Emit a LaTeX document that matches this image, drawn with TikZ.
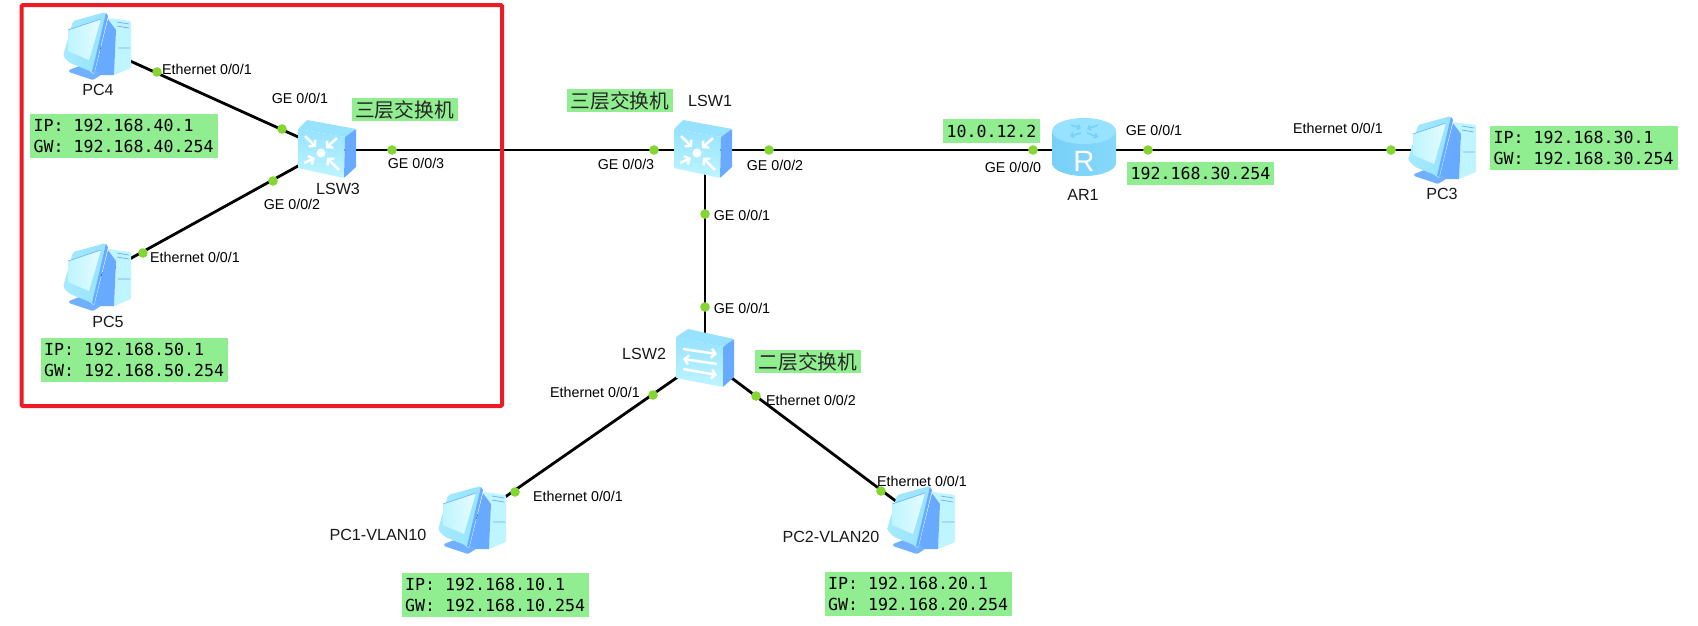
\documentclass[tikz,border=0pt]{standalone}
\usepackage{fontspec}
\setmainfont{Liberation Sans}
\setmonofont{DejaVu Sans Mono}
\newfontfamily\cjkfont{Noto Sans CJK SC}
\usetikzlibrary{arrows.meta}
\definecolor{boxgreen}{RGB}{144,238,144}
\definecolor{portdot}{RGB}{133,214,50}
\definecolor{framered}{RGB}{237,28,36}
\definecolor{iconTop}{RGB}{150,226,255}
\definecolor{iconFront}{RGB}{165,234,255}
\definecolor{iconPale}{RGB}{190,245,255}
\definecolor{iconSide}{RGB}{104,170,255}
\definecolor{iconBase}{RGB}{112,176,255}
\definecolor{iconEdge}{RGB}{120,208,248}
% fixed gap after the IP: and GW: tags, one character cell wide
\newcommand{\cellgap}{\hspace{7.5pt}}
\tikzset{
  x=0.75pt, y=-0.75pt,
  device/.style={inner sep=0pt, minimum size=40pt},
  link/.style={line width=2.1pt, black},
  portmark/.style={circle, fill=portdot, inner sep=0pt, minimum size=7.2pt},
  portlabel/.style={font=\fontsize{10.7}{12}\selectfont, inner sep=0pt, text=black},
  devlabel/.style={font=\fontsize{12.1}{14}\selectfont, inner sep=0pt, text=black!90},
  ipbox/.style={fill=boxgreen, inner sep=0pt, minimum width=140.5pt, minimum height=33pt,
    text width=135.5pt, align=left, font=\ttfamily\fontsize{12.45}{15.8}\selectfont},
  addrbox/.style={fill=boxgreen, inner sep=0pt, minimum height=17.5pt, font=\ttfamily\fontsize{12.45}{15}\selectfont},
  layerbox/.style={fill=boxgreen, inner sep=0pt, minimum width=79.5pt, minimum height=17.5pt, font=\cjkfont\fontsize{14.8}{16}\selectfont, text=black!85},
  whitearrow/.style={white, line width=1.9pt, -{Straight Barb[length=3pt,width=7pt]}},
  pcicon/.pic={
    % tower
    \fill[iconPale, rounded corners=0.8pt] (11,-28) -- (19,-27) -- (34,-25) -- (34,22) -- (17,29) -- (19,-16) -- cycle;
    \fill[iconSide] (11,-27) -- (19,-16) -- (17,29) -- (-3,29) -- cycle;
    \draw[iconSide, line width=0.5pt] (20,-24) -- (32,-22) (20,-20) -- (32,-18) (21,2) -- (33,2);
    % stand
    \fill[iconBase, rounded corners=0.8pt] (-28,24) -- (-10,17) -- (-4,17) -- (-3,24) -- (4,29) -- (-4,34) -- (-28,26) -- cycle;
    % monitor
    \shade[left color=iconFront, right color=iconTop, rounded corners=1.5pt] (-24,-25) -- (9,-34) -- (11,-30) -- (-3,29) -- (-7,25) -- (-27,17) -- (-34,10) -- cycle;
    \fill[iconSide] (9,-33) -- (11,-30) -- (-3,27) -- (-5,26) -- cycle;
    \shade[left color=iconPale, right color=white!60!iconPale] (-29,-16) -- (4,-27) -- (-8,14) -- (-29,5) -- cycle;
    \draw[iconSide, line width=0.4pt] (-29,-16) -- (4,-27);
  },
  coreicon/.pic={
    \fill[iconTop, rounded corners=0.6pt] (-29,-20) -- (-20,-29) -- (29,-20) -- (18,-12) -- cycle;
    \shade[top color=iconTop, bottom color=iconPale, rounded corners=0.6pt] (-29,-20) -- (18,-12) -- (17,29) -- (-29,19) -- cycle;
    \fill[iconSide, rounded corners=0.6pt] (18,-12) -- (29,-20) -- (29,18) -- (17,29) -- cycle;
    \fill[white] (-6,4) circle (3.4pt);
    \draw[whitearrow] (-22,-13) -- (-11,-2);
    \draw[whitearrow] (10,-11) -- (-1,-1);
    \draw[whitearrow] (-23,14) -- (-12,9);
    \draw[whitearrow] (12,21) -- (0,9);
  },
  accessicon/.pic={
    \fill[iconTop, rounded corners=0.6pt] (-29,-21) -- (-17,-29) -- (29,-19) -- (18,-11) -- cycle;
    \shade[top color=iconTop, bottom color=iconPale, rounded corners=0.6pt] (-29,-21) -- (18,-11) -- (18,29) -- (-29,20) -- cycle;
    \fill[iconSide, rounded corners=0.6pt] (18,-11) -- (29,-19) -- (29,19) -- (18,29) -- cycle;
    \draw[whitearrow] (-22,-9) -- (12,-4);
    \draw[whitearrow] (12,6) -- (-22,1);
    \draw[whitearrow] (-22,11) -- (12,17);
  },
  routericon/.pic={
    % with the y axis pointing down, an arc from 180 to 0 bulges towards the bottom of the page
    \shade[left color=iconEdge, right color=iconEdge!55!iconTop]
      (-32,-16) -- (-32,16) arc[start angle=180, end angle=0, x radius=32, y radius=13] -- (32,-16) -- cycle;
    \fill[iconTop] (0,-16) ellipse[x radius=32, y radius=13];
    \draw[iconEdge, line width=1.1pt, -{Straight Barb[length=2pt,width=4pt]}] (-13,-22) -- (-3,-19);
    \draw[iconEdge, line width=1.1pt, -{Straight Barb[length=2pt,width=4pt]}] (14,-22) -- (3,-18);
    \draw[iconEdge, line width=1.1pt, -{Straight Barb[length=2pt,width=4pt]}] (-3,-14) -- (-14,-11);
    \draw[iconEdge, line width=1.1pt, -{Straight Barb[length=2pt,width=4pt]}] (3,-14) -- (14,-10);
    \node[white, inner sep=0pt, font=\fontsize{22}{22}\selectfont] at (0,14) {R};
  },
}
\begin{document}
\begin{tikzpicture}
\useasboundingbox (0,0) rectangle (1698,625);
\fill[white] (0,0) rectangle (1698,625);

% devices
\node[device] (pc4) at (97,46) {};
\node[device] (pc5) at (97,277) {};
\node[device] (pc1) at (472,520) {};
\node[device] (pc2) at (921,520) {};
\node[device] (pc3) at (1442,150) {};
\node[device] (lsw3) at (327,150) {};
\node[device] (lsw1) at (705,150) {};
\node[device] (lsw2) at (705,358) {};
\node[device] (ar1) at (1084,150) {};

% links
\draw[link] (pc4.center) -- (lsw3.center);
\draw[link] (pc5.center) -- (lsw3.center);
\draw[link] (lsw3.center) -- (lsw1.center);
\draw[link] (lsw1.center) -- (ar1.center);
\draw[link] (ar1.center) -- (pc3.center);
\draw[link] (lsw1.center) -- (lsw2.center);
\draw[link] (lsw2.center) -- (pc1.center);
\draw[link] (lsw2.center) -- (pc2.center);

% icons
\pic at (97,46) {pcicon};
\pic at (97,277) {pcicon};
\pic at (472,520) {pcicon};
\pic at (921,520) {pcicon};
\pic at (1442,150) {pcicon};
\pic at (327,149) {coreicon};
\pic at (703,149) {coreicon};
\pic at (705,358) {accessicon};
\pic at (1084,147) {routericon};

% port markers
\foreach \n/\px/\py in {a/157/72, b/282/129, c/273/181, d/143/253, e/392/150, f/654/150, g/769/150,
    h/1033/150, i/1148/150, j/1391/150, k/705/214, l/705/307, m/653/395, n/756/396, o/515/492, p/881/491}
  \node[portmark] (port\n) at (\px,\py) {};

% frame around the access block
\draw[framered, line width=3pt, rounded corners=1pt] (21.5,5) rectangle (502,406);

% port names
\node[portlabel] (t1) at (207,69) {Ethernet 0/0/1};
\node[portlabel] (t2) at (300,98) {GE 0/0/1};
\node[portlabel] (t3) at (292,204) {GE 0/0/2};
\node[portlabel] (t4) at (416,163) {GE 0/0/3};
\node[portlabel] (t5) at (195,257) {Ethernet 0/0/1};
\node[portlabel] (t6) at (626,164) {GE 0/0/3};
\node[portlabel] (t7) at (775,165) {GE 0/0/2};
\node[portlabel] (t8) at (742,215) {GE 0/0/1};
\node[portlabel] (t9) at (742,308) {GE 0/0/1};
\node[portlabel] (t10) at (595,392) {Ethernet 0/0/1};
\node[portlabel] (t11) at (811,400) {Ethernet 0/0/2};
\node[portlabel] (t12) at (578,496) {Ethernet 0/0/1};
\node[portlabel] (t13) at (922,481) {Ethernet 0/0/1};
\node[portlabel] (t14) at (1013,167) {GE 0/0/0};
\node[portlabel] (t15) at (1154,130) {GE 0/0/1};
\node[portlabel] (t16) at (1338,128) {Ethernet 0/0/1};

% device names
\node[devlabel] (n1) at (98,90) {PC4};
\node[devlabel] (n2) at (108,322) {PC5};
\node[devlabel] (n3) at (338,189) {LSW3};
\node[devlabel] (n4) at (710,101) {LSW1};
\node[devlabel] (n5) at (644,354) {LSW2};
\node[devlabel] (n6) at (1083,195) {AR1};
\node[devlabel] (n7) at (1442,194) {PC3};
\node[devlabel] (n8) at (378,535) {PC1-VLAN10};
\node[devlabel] (n9) at (831,537) {PC2-VLAN20};

% addressing notes
\node[ipbox] (ip4) at (124,136) {IP:\cellgap 192.168.40.1\\GW:\cellgap 192.168.40.254};
\node[ipbox] (ip5) at (134.5,360) {IP:\cellgap 192.168.50.1\\GW:\cellgap 192.168.50.254};
\node[ipbox] (ip1) at (495.5,595) {IP:\cellgap 192.168.10.1\\GW:\cellgap 192.168.10.254};
\node[ipbox] (ip2) at (918.5,594) {IP:\cellgap 192.168.20.1\\GW:\cellgap 192.168.20.254};
\node[ipbox] (ip3) at (1584,148) {IP:\cellgap 192.168.30.1\\GW:\cellgap 192.168.30.254};
\node[addrbox, minimum width=72.75pt] (gw1) at (991.5,131) {10.0.12.2};
\node[addrbox, minimum width=110.25pt] (gw2) at (1200.5,173.5) {192.168.30.254};

% switch layer notes
\node[layerbox] (l3a) at (404.5,109.5) {三层交换机};
\node[layerbox] (l3b) at (620,100.5) {三层交换机};
\node[layerbox] (l2a) at (808,361.5) {二层交换机};
\end{tikzpicture}
\end{document}
